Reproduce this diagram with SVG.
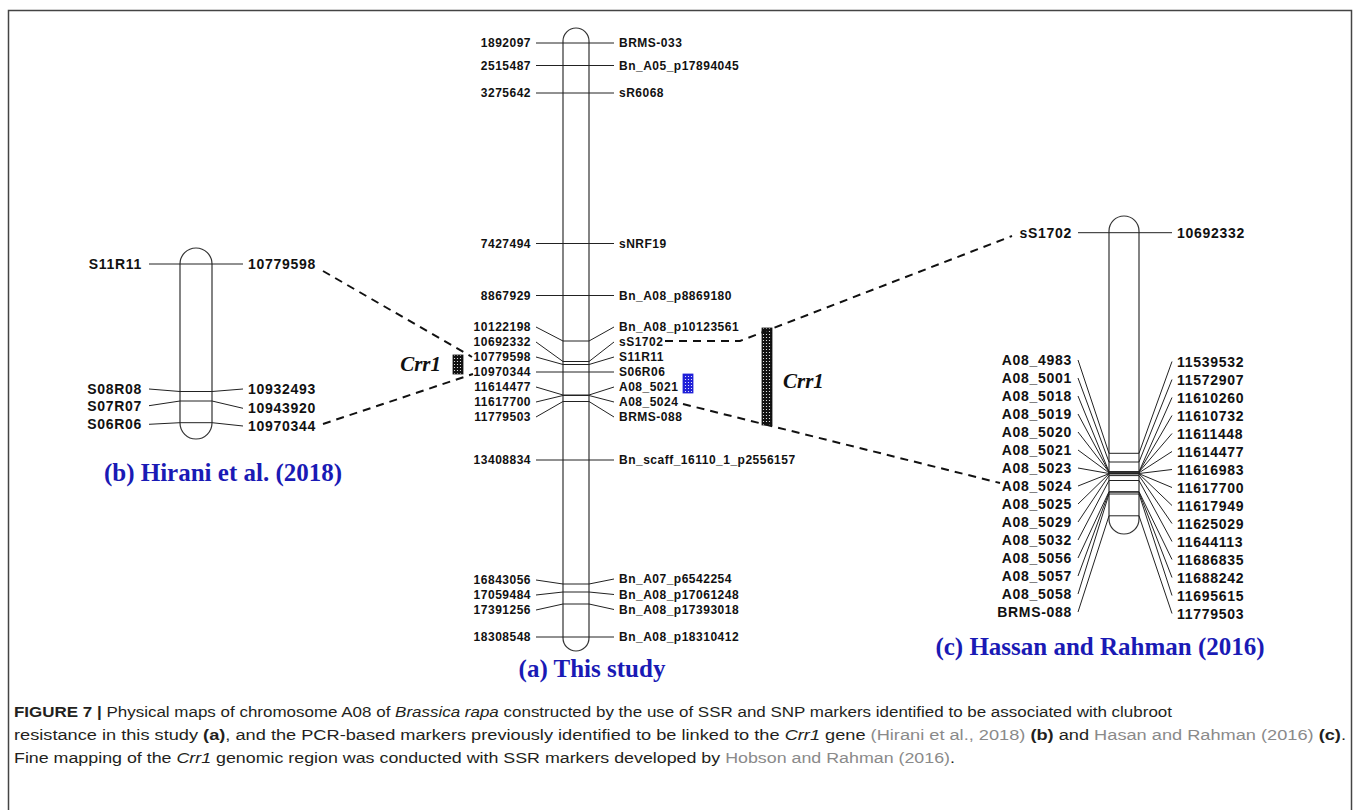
<svg xmlns="http://www.w3.org/2000/svg" width="1360" height="810" viewBox="0 0 1360 810">
<style>
.chr{fill:#fff;stroke:#333;stroke-width:1.2}
.mk{fill:none;stroke:#222;stroke-width:1}
.s{font-family:"Liberation Sans",Arial,sans-serif;font-weight:bold;font-size:12px;letter-spacing:0.5px;fill:#111}
.b{font-family:"Liberation Sans",Arial,sans-serif;font-weight:bold;font-size:14px;letter-spacing:0.7px;fill:#111}
.r{text-anchor:end}
.dash{fill:none;stroke:#111;stroke-width:2;stroke-dasharray:8,6}
.crr{font-family:"Liberation Serif","Times New Roman",serif;font-weight:bold;font-style:italic;font-size:21px;fill:#111}
.ttl{font-family:"Liberation Serif","Times New Roman",serif;font-weight:bold;font-size:25px;fill:#1a1ab5;text-anchor:middle}
.cap{font-family:"Liberation Sans",Arial,sans-serif;font-size:15.5px;fill:#231f20}
.cit{fill:#8a8a8a}
</style>
<defs>
<pattern id="dots" width="3" height="3" patternUnits="userSpaceOnUse"><rect width="3" height="3" fill="#111"/><circle cx="1.5" cy="1.5" r="0.6" fill="#fff"/></pattern>
<pattern id="bdots" width="3" height="3" patternUnits="userSpaceOnUse"><rect width="3" height="3" fill="#2020d8"/><circle cx="1.5" cy="1.5" r="0.6" fill="#fff"/></pattern>
</defs>
<rect x="8.5" y="10.5" width="1343" height="830" fill="none" stroke="#444" stroke-width="1.5"/>

<g id="chrom-a">
<rect class="chr" x="563" y="28" width="26" height="623" rx="13"/>
<polyline class="mk" points="536,43 614,43"/>
<polyline class="mk" points="536,65.5 614,65.5"/>
<polyline class="mk" points="536,93 614,93"/>
<polyline class="mk" points="536,243.5 614,243.5"/>
<polyline class="mk" points="536,295.5 614,295.5"/>
<polyline class="mk" points="536,327 563,341 589,341 614,327"/>
<polyline class="mk" points="536,342 563,361.5 589,361.5 614,342"/>
<polyline class="mk" points="536,357 563,364.5 589,364.5 614,357"/>
<polyline class="mk" points="536,372 614,372"/>
<polyline class="mk" points="536,387 563,395 589,395 614,387"/>
<polyline class="mk" points="536,402 563,395.5 589,395.5 614,402"/>
<polyline class="mk" points="536,417 563,401.5 589,401.5 614,417"/>
<polyline class="mk" points="536,460 614,460"/>
<polyline class="mk" points="536,580 563,584 589,584 614,579"/>
<polyline class="mk" points="536,595 563,592 589,592 614,594.5"/>
<polyline class="mk" points="536,610 563,604 589,604 614,609.5"/>
<polyline class="mk" points="536,637 614,637"/>
<text class="s r" x="531" y="47.3">1892097</text>
<text class="s r" x="531" y="69.8">2515487</text>
<text class="s r" x="531" y="97.3">3275642</text>
<text class="s r" x="531" y="247.8">7427494</text>
<text class="s r" x="531" y="299.8">8867929</text>
<text class="s r" x="531" y="331.3">10122198</text>
<text class="s r" x="531" y="346.3">10692332</text>
<text class="s r" x="531" y="361.3">10779598</text>
<text class="s r" x="531" y="376.3">10970344</text>
<text class="s r" x="531" y="391.3">11614477</text>
<text class="s r" x="531" y="406.3">11617700</text>
<text class="s r" x="531" y="421.3">11779503</text>
<text class="s r" x="531" y="464.3">13408834</text>
<text class="s r" x="531" y="584.3">16843056</text>
<text class="s r" x="531" y="599.3">17059484</text>
<text class="s r" x="531" y="614.3">17391256</text>
<text class="s r" x="531" y="641.3">18308548</text>
<text class="s" x="619" y="47.3">BRMS-033</text>
<text class="s" x="619" y="69.8">Bn_A05_p17894045</text>
<text class="s" x="619" y="97.3">sR6068</text>
<text class="s" x="619" y="247.8">sNRF19</text>
<text class="s" x="619" y="299.8">Bn_A08_p8869180</text>
<text class="s" x="619" y="331.3">Bn_A08_p10123561</text>
<text class="s" x="619" y="346.3">sS1702</text>
<text class="s" x="619" y="361.3">S11R11</text>
<text class="s" x="619" y="376.3">S06R06</text>
<text class="s" x="619" y="391.3">A08_5021</text>
<text class="s" x="619" y="406.3">A08_5024</text>
<text class="s" x="619" y="421.3">BRMS-088</text>
<text class="s" x="619" y="464.3">Bn_scaff_16110_1_p2556157</text>
<text class="s" x="619" y="583.3">Bn_A07_p6542254</text>
<text class="s" x="619" y="598.8">Bn_A08_p17061248</text>
<text class="s" x="619" y="613.8">Bn_A08_p17393018</text>
<text class="s" x="619" y="641.3">Bn_A08_p18310412</text>
<rect x="683" y="374" width="10" height="19" fill="url(#bdots)" stroke="#2020d8" stroke-width="0.8"/>
<text class="ttl" x="592" y="677">(a) This study</text>
</g>

<g id="chrom-b">
<rect class="chr" x="180" y="248" width="32" height="191" rx="16"/>
<polyline class="mk" points="149,264 243,264"/>
<polyline class="mk" points="149,389 180,391.5 212,391.5 243,389"/>
<polyline class="mk" points="149,405.7 180,401 212,401 243,408.3"/>
<polyline class="mk" points="149,424.3 180,422.7 212,422.7 243,426"/>
<text class="b r" x="142" y="269">S11R11</text>
<text class="b r" x="142" y="394">S08R08</text>
<text class="b r" x="142" y="410.7">S07R07</text>
<text class="b r" x="142" y="429.3">S06R06</text>
<text class="b" x="248" y="269">10779598</text>
<text class="b" x="248" y="394">10932493</text>
<text class="b" x="248" y="413.3">10943920</text>
<text class="b" x="248" y="431">10970344</text>
<text class="ttl" x="223" y="481">(b) Hirani et al. (2018)</text>
</g>

<g id="chrom-c">
<rect class="chr" x="1109" y="216" width="30" height="318" rx="15"/>
<polyline class="mk" points="1078,232.7 1172,232.7"/>
<polyline class="mk" points="1078,360 1109,453.3 1139,453.3 1172,361.5"/>
<polyline class="mk" points="1078,378 1109,462 1139,462 1172,379.5"/>
<polyline class="mk" points="1078,396 1109,471.7 1139,471.7 1172,397.5"/>
<polyline class="mk" points="1078,414 1109,471.9 1139,471.9 1172,415.5"/>
<polyline class="mk" points="1078,432 1109,472 1139,472 1172,433.5"/>
<polyline class="mk" points="1078,450 1109,472.8 1139,472.8 1172,451.5"/>
<polyline class="mk" points="1078,468 1109,473.5 1139,473.5 1172,469.5"/>
<polyline class="mk" points="1078,486 1109,473.7 1139,473.7 1172,487.5"/>
<polyline class="mk" points="1078,504 1109,473.9 1139,473.9 1172,505.5"/>
<polyline class="mk" points="1078,522 1109,475.6 1139,475.6 1172,523.5"/>
<polyline class="mk" points="1078,540 1109,480.5 1139,480.5 1172,541.5"/>
<polyline class="mk" points="1078,558 1109,491.7 1139,491.7 1172,559.5"/>
<polyline class="mk" points="1078,576 1109,492.2 1139,492.2 1172,577.5"/>
<polyline class="mk" points="1078,594 1109,494 1139,494 1172,595.5"/>
<polyline class="mk" points="1078,612 1109,515.8 1139,515.8 1172,613.5"/>
<text class="b r" x="1072" y="237.7">sS1702</text>
<text class="b" x="1177" y="237.7">10692332</text>
<text class="b r" x="1072" y="365">A08_4983</text>
<text class="b r" x="1072" y="383">A08_5001</text>
<text class="b r" x="1072" y="401">A08_5018</text>
<text class="b r" x="1072" y="419">A08_5019</text>
<text class="b r" x="1072" y="437">A08_5020</text>
<text class="b r" x="1072" y="455">A08_5021</text>
<text class="b r" x="1072" y="473">A08_5023</text>
<text class="b r" x="1072" y="491">A08_5024</text>
<text class="b r" x="1072" y="509">A08_5025</text>
<text class="b r" x="1072" y="527">A08_5029</text>
<text class="b r" x="1072" y="545">A08_5032</text>
<text class="b r" x="1072" y="563">A08_5056</text>
<text class="b r" x="1072" y="581">A08_5057</text>
<text class="b r" x="1072" y="599">A08_5058</text>
<text class="b r" x="1072" y="617">BRMS-088</text>
<text class="b" x="1177" y="366.5">11539532</text>
<text class="b" x="1177" y="384.5">11572907</text>
<text class="b" x="1177" y="402.5">11610260</text>
<text class="b" x="1177" y="420.5">11610732</text>
<text class="b" x="1177" y="438.5">11611448</text>
<text class="b" x="1177" y="456.5">11614477</text>
<text class="b" x="1177" y="474.5">11616983</text>
<text class="b" x="1177" y="492.5">11617700</text>
<text class="b" x="1177" y="510.5">11617949</text>
<text class="b" x="1177" y="528.5">11625029</text>
<text class="b" x="1177" y="546.5">11644113</text>
<text class="b" x="1177" y="564.5">11686835</text>
<text class="b" x="1177" y="582.5">11688242</text>
<text class="b" x="1177" y="600.5">11695615</text>
<text class="b" x="1177" y="618.5">11779503</text>
<text class="ttl" x="1100" y="655">(c) Hassan and Rahman (2016)</text>
</g>

<g id="crr1-left">
<rect x="453" y="355" width="10" height="19" fill="url(#dots)" stroke="#111" stroke-width="0.8"/>
<text class="crr" x="441" y="371" text-anchor="end">Crr1</text>
</g>
<g id="crr1-right">
<rect x="762" y="328" width="10" height="97" fill="url(#dots)" stroke="#111" stroke-width="0.8"/>
<text class="crr" x="783" y="388">Crr1</text>
</g>

<g id="connectors">
<polyline class="dash" points="323,271 472,357"/>
<polyline class="dash" points="323,424 473,374"/>
<polyline class="dash" points="665,341 740,341 1012,236"/>
<polyline class="dash" points="683,404 1000,483"/>
</g>

<g id="caption">
<text class="cap" x="14" y="717" textLength="1158" lengthAdjust="spacingAndGlyphs"><tspan font-weight="bold">FIGURE 7 |</tspan> Physical maps of chromosome A08 of <tspan font-style="italic">Brassica rapa</tspan> constructed by the use of SSR and SNP markers identified to be associated with clubroot</text>
<text class="cap" x="14" y="740" textLength="1332" lengthAdjust="spacingAndGlyphs">resistance in this study <tspan font-weight="bold">(a)</tspan>, and the PCR-based markers previously identified to be linked to the <tspan font-style="italic">Crr1</tspan> gene <tspan class="cit">(Hirani et al., 2018)</tspan> <tspan font-weight="bold">(b)</tspan> and <tspan class="cit">Hasan and Rahman (2016)</tspan> <tspan font-weight="bold">(c)</tspan>.</text>
<text class="cap" x="14" y="763" textLength="941" lengthAdjust="spacingAndGlyphs">Fine mapping of the <tspan font-style="italic">Crr1</tspan> genomic region was conducted with SSR markers developed by <tspan class="cit">Hobson and Rahman (2016)</tspan>.</text>
</g>
</svg>
